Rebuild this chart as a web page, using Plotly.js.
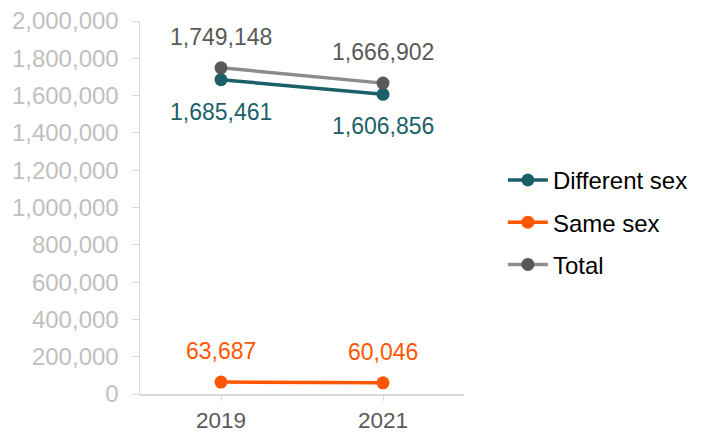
<!DOCTYPE html>
<html>
<head>
<meta charset="utf-8">
<script src="https://cdn.plot.ly/plotly-3.0.1.min.js"></script>
<style>html,body{margin:0;padding:0;background:#fff;}#chart{width:714px;height:432px;}</style>
</head>
<body>
<div id="chart"></div>
<script>
const years = ["2019", "2021"];
const differentSex = [1685461, 1606856];
const sameSex = [63687, 60046];
const total = [1749148, 1666902];
const seriesNames = ["Different sex", "Same sex", "Total"];
const yTickVals = [0, 200000, 400000, 600000, 800000, 1000000, 1200000, 1400000, 1600000, 1800000, 2000000];

const FONT = "Liberation Sans, Arial, sans-serif";
const cTeal = "#1b5f68", cOrange = "#ff5700", cGrayLine = "#8c8c8c", cGrayMark = "#595959";

function fmt(v){ return v.toLocaleString("en-US"); }

const traces = [
  {x: years, y: differentSex, name: seriesNames[0], legendgroup: "a", mode: "lines+markers",
   line: {color: cTeal, width: 3.5}, marker: {color: cTeal, size: 13}},
  {x: years, y: sameSex, name: seriesNames[1], legendgroup: "b", mode: "lines+markers",
   line: {color: cOrange, width: 3.5}, marker: {color: cOrange, size: 13}},
  {x: years, y: total, name: seriesNames[2], legendgroup: "c", mode: "lines+markers",
   line: {color: cGrayLine, width: 3.5}, marker: {color: cGrayMark, size: 13}}
];

const annotations = [];
function addLabels(vals, color, shift){
  vals.forEach((v, i) => annotations.push({xref: "x", yref: "y", x: i, y: v, text: fmt(v),
    showarrow: false, xanchor: "center", yanchor: "middle", yshift: shift,
    font: {family: FONT, size: 23, color: color}}));
}
addLabels(total, cGrayMark, 31);
addLabels(differentSex, cTeal, -32);
addLabels(sameSex, cOrange, 31);

const layout = {
  width: 714, height: 432,
  margin: {l: 140, r: 250, t: 21, b: 38},
  paper_bgcolor: "#fff", plot_bgcolor: "#fff",
  font: {family: FONT, size: 23, color: "#595959"},
  showlegend: true,
  legend: {x: 1.12, xanchor: "left", y: 0.46, yanchor: "middle", traceorder: "grouped",
    tracegroupgap: 8, font: {family: FONT, size: 24, color: "#000"}, itemwidth: 40},
  xaxis: {type: "category", range: [-0.5, 1.5], showline: true, linecolor: "#d9d9d9", linewidth: 1.5,
    ticks: "outside", ticklen: 5, tickcolor: "#d9d9d9", showgrid: false, zeroline: false,
    tickfont: {family: FONT, size: 22.5, color: "#595959"}, fixedrange: true},
  yaxis: {range: [0, 2000000], tickvals: yTickVals, ticktext: yTickVals.map(fmt), showline: true,
    linecolor: "#d9d9d9", linewidth: 1.5, ticks: "outside", ticklen: 7, tickcolor: "#d9d9d9",
    showgrid: false, zeroline: false, ticklabelstandoff: 8,
    tickfont: {family: FONT, size: 24, color: "#bfbfbf"}, fixedrange: true},
  annotations: annotations
};

Plotly.newPlot("chart", traces, layout, {displayModeBar: false, staticPlot: true});
</script>
</body>
</html>
